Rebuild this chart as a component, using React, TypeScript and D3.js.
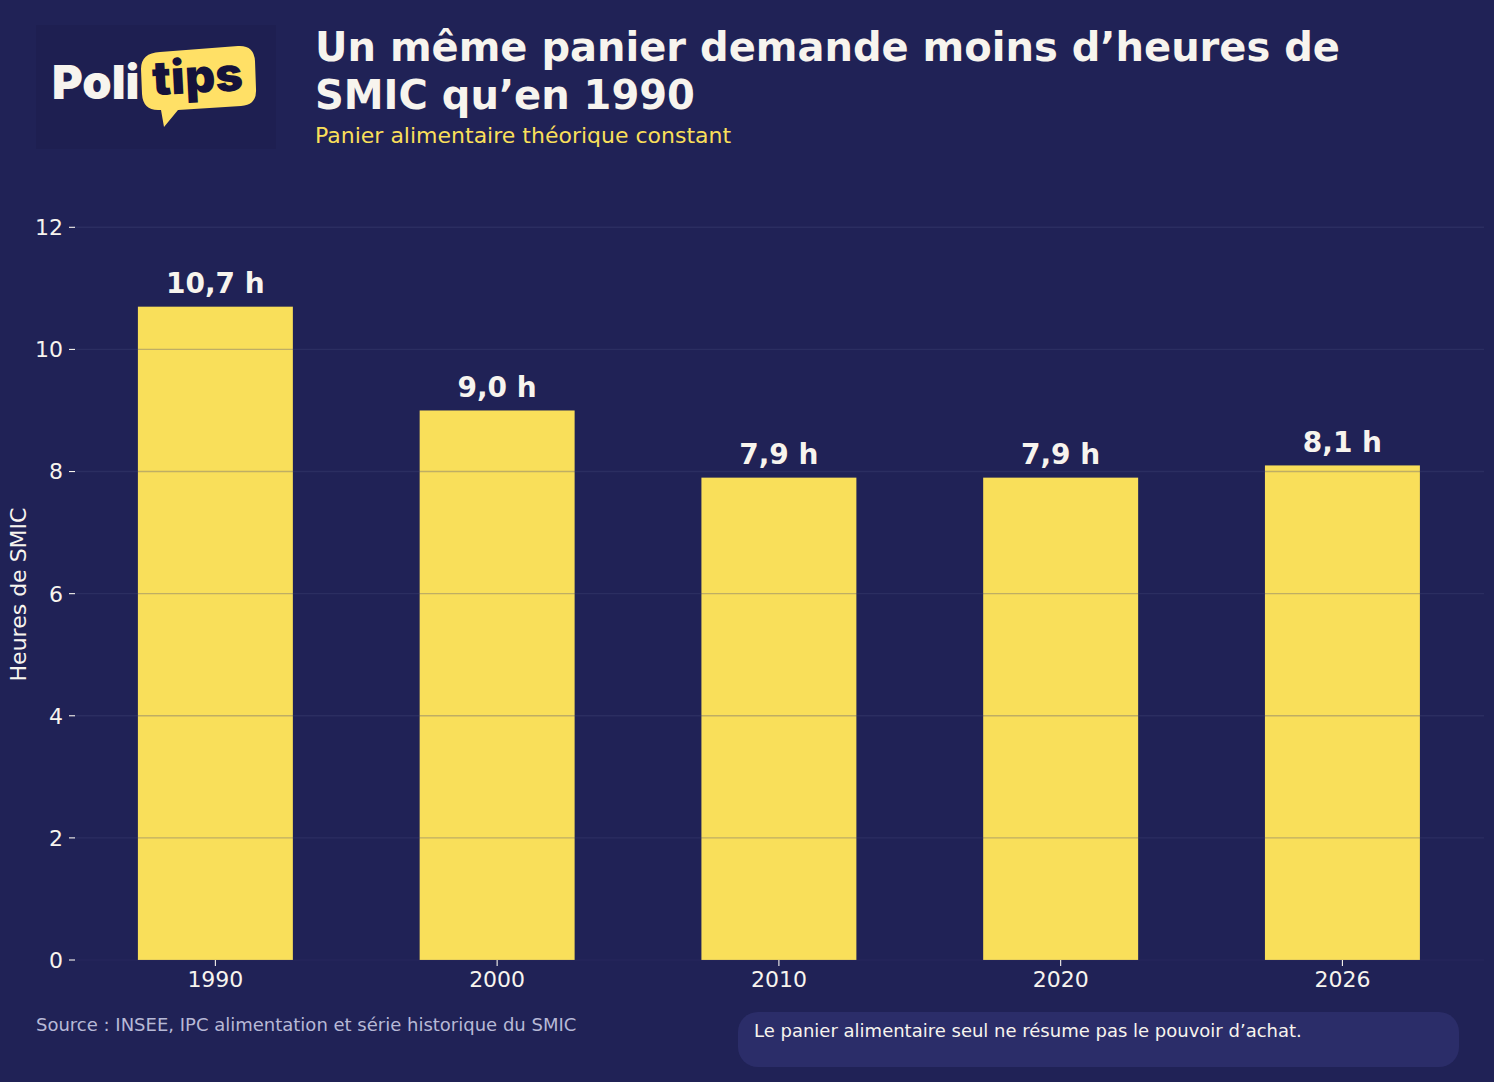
import * as d3 from 'd3'

const years = ["1990", "2000", "2010", "2020", "2026"]
const hours = [10.7, 9.0, 7.9, 7.9, 8.1]
const yTicks = [0, 2, 4, 6, 8, 10, 12]
const titleLines = ["Un même panier demande moins d’heures de", "SMIC qu’en 1990"]
const subtitle = "Panier alimentaire théorique constant"
const yLabel = "Heures de SMIC"
const source = "Source : INSEE, IPC alimentation et série historique du SMIC"
const note = "Le panier alimentaire seul ne résume pas le pouvoir d’achat."

const W = 1494, H = 1082
const BG = "#202256", YELLOW = "#f9df5a", CREAM = "#f7f4ee"
const FONT = "'DejaVu Sans', sans-serif"

const x = d3.scaleBand<string>().domain(years).range([74.5, 1483.3]).paddingInner(0.45).paddingOuter(0.225)
const y = d3.scaleLinear().domain([0, 12]).range([960, 227.3])
const fmt = (v: number) => v.toFixed(1).replace(".", ",") + " h"

function Logo() {
    return <g>
        <rect x={36} y={25} width={240} height={124} fill="#1e1f51" />
        <text x={52} y={99} fontFamily="Inter, sans-serif" fontWeight={900} fontSize={47} fill={CREAM}>Poli</text>
        <path d="M160 52 L238 46 Q254 45 255 61 L256 89 Q257 105 241 106 L178 110 L164 127 L161 110 L158 110 Q143 110 142 94 L141 69 Q141 53 160 52 Z" fill="#ffe066" />
        <text x={152} y={93} transform="rotate(-3 197 75)" fontFamily="Inter, sans-serif" fontWeight={900} fontSize={47} fill="#15123a">tips</text>
    </g>
}

export default function App() {
    return <svg width={W} height={H} viewBox={`0 0 ${W} ${H}`}
        style={{ position: "absolute", left: 0, top: 0, display: "block", background: BG }} fontFamily={FONT}>
        <rect width={W} height={H} fill={BG} />
        <Logo />
        {titleLines.map((t, i) =>
            <text key={t} x={315} y={61 + i * 48} fontSize={40} fontWeight={700} fill={CREAM}>{t}</text>)}
        <text x={315} y={143} fontSize={22} fill={YELLOW}>{subtitle}</text>

        {years.map((yr, i) =>
            <rect key={yr} x={x(yr)} y={y(hours[i])} width={x.bandwidth()} height={y(0) - y(hours[i])} fill={YELLOW} />)}
        {yTicks.map(t => <g key={t}>
            <line x1={74} x2={1484} y1={y(t)} y2={y(t)} stroke="#45467a" strokeOpacity={t === 0 ? 0.12 : 0.32} strokeWidth={1.4} />
            <line x1={69} x2={75} y1={y(t)} y2={y(t)} stroke={CREAM} strokeWidth={1.1} />
            <text x={63} y={y(t)} dy="0.36em" textAnchor="end" fontSize={22} fill={CREAM}>{t}</text>
        </g>)}
        {years.map((yr, i) => {
            const cx = x(yr)! + x.bandwidth() / 2
            return <g key={yr}>
                <line x1={cx} x2={cx} y1={960} y2={966} stroke={CREAM} strokeWidth={1.1} />
                <text x={cx} y={987} textAnchor="middle" fontSize={22} fill={CREAM}>{yr}</text>
                <text x={cx} y={y(hours[i]) - 13.5} textAnchor="middle" fontSize={28} fontWeight={700} fill={CREAM}>{fmt(hours[i])}</text>
            </g>
        })}
        <text transform="translate(26,594.5) rotate(-90)" textAnchor="middle" fontSize={22} fill={CREAM}>{yLabel}</text>

        <text x={36} y={1031} fontSize={18} fill="#b7b9d6">{source}</text>
        <rect x={738} y={1012} width={721} height={55} rx={20} fill="#2b2d69" />
        <text x={754} y={1037} fontSize={18} fill={CREAM}>{note}</text>
    </svg>
}
